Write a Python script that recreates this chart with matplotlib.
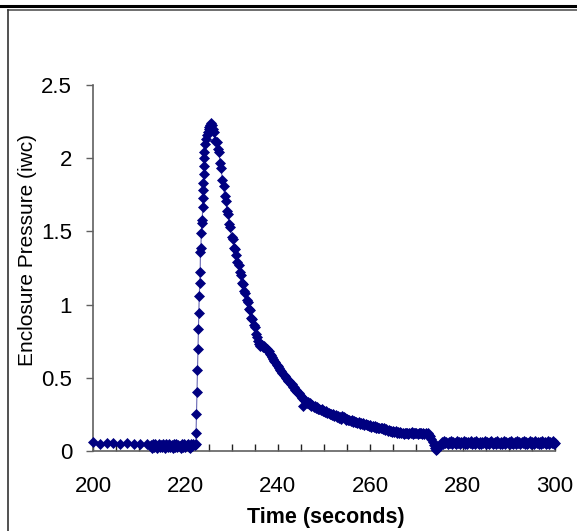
import numpy as np
import matplotlib
matplotlib.use("Agg")
import matplotlib.pyplot as plt
from matplotlib.lines import Line2D

# ---- data ----
head_t = [200.0, 201.5, 203.0, 204.4, 205.8, 207.3, 208.8, 210.2, 211.6]
head_v = [0.06, 0.045, 0.055, 0.055, 0.05, 0.055, 0.045, 0.05, 0.045]

base_t = np.arange(212.5, 222.26, 0.25)
base_v = [0.04, 0.02, 0.05, 0.03, 0.045, 0.02, 0.035, 0.05, 0.025, 0.04,
          0.03, 0.05, 0.02, 0.045, 0.035, 0.025, 0.05, 0.03, 0.04, 0.02,
          0.045, 0.03, 0.05, 0.025, 0.04, 0.035, 0.02, 0.05, 0.03, 0.045,
          0.025, 0.04, 0.05, 0.03, 0.02, 0.045, 0.035, 0.05, 0.04, 0.05]

rise_t = [222.3, 222.4, 222.5, 222.6, 222.7, 222.8, 222.9, 223.0, 223.1, 223.2,
          223.25, 223.35, 223.45, 223.55, 223.65, 223.75, 223.8, 223.85, 223.9, 223.95,
          224.0, 224.05, 224.1, 224.2, 224.4, 224.6, 224.8, 225.0, 225.2, 225.4,
          225.6, 225.8]
rise_v = [0.12, 0.25, 0.40, 0.55, 0.70, 0.83, 0.94, 1.06, 1.15, 1.22,
          1.36, 1.39, 1.49, 1.56, 1.58, 1.67, 1.73, 1.78, 1.83, 1.89,
          1.95, 2.00, 2.04, 2.10, 2.13, 2.16, 2.18, 2.20, 2.21, 2.23,
          2.24, 2.23]

decay_t = np.arange(226.0, 274.76, 0.25)
decay_v = [2.20, 2.18, 2.12, 2.11, 2.06, 2.04, 1.97, 1.93, 1.85, 1.81,
           1.74, 1.71, 1.64, 1.62, 1.55, 1.53, 1.46, 1.45, 1.39, 1.38,
           1.34, 1.29, 1.27, 1.22, 1.20, 1.15, 1.14, 1.09, 1.08, 1.03,
           1.02, 0.97, 0.96, 0.91, 0.90, 0.86, 0.85, 0.80, 0.78, 0.75,
           0.73, 0.72, 0.725, 0.71, 0.72, 0.705, 0.70, 0.695, 0.68, 0.665,
           0.655, 0.64, 0.63, 0.615, 0.605, 0.59, 0.58, 0.565, 0.555, 0.545,
           0.535, 0.52, 0.515, 0.50, 0.495, 0.48, 0.475, 0.46, 0.455, 0.44,
           0.435, 0.42, 0.415, 0.40, 0.395, 0.38, 0.375, 0.36, 0.31, 0.345,
           0.34, 0.33, 0.335, 0.32, 0.325, 0.31, 0.315, 0.30, 0.305, 0.295,
           0.30, 0.285, 0.29, 0.28, 0.285, 0.27, 0.275, 0.265, 0.27, 0.26,
           0.26, 0.25, 0.255, 0.245, 0.25, 0.24, 0.245, 0.23, 0.24, 0.225,
           0.235, 0.22, 0.24, 0.23, 0.225, 0.215, 0.22, 0.21, 0.215, 0.205,
           0.21, 0.20, 0.205, 0.195, 0.20, 0.19, 0.195, 0.185, 0.19, 0.185,
           0.19, 0.18, 0.185, 0.175, 0.18, 0.17, 0.175, 0.165, 0.17, 0.165,
           0.17, 0.16, 0.165, 0.155, 0.16, 0.155, 0.16, 0.15, 0.155, 0.145,
           0.15, 0.14, 0.145, 0.135, 0.14, 0.13, 0.135, 0.13, 0.135, 0.125,
           0.13, 0.12, 0.13, 0.12, 0.125, 0.115, 0.125, 0.12, 0.125, 0.115,
           0.125, 0.12, 0.13, 0.115, 0.125, 0.12, 0.125, 0.115, 0.12, 0.125,
           0.12, 0.115, 0.125, 0.115, 0.12, 0.115, 0.12, 0.11, 0.10, 0.08,
           0.06, 0.04, 0.02, 0.01, 0.015, 0.03]

tail_t = np.arange(275.0, 300.01, 0.25)
tail_v = [0.04, 0.05, 0.06, 0.05, 0.065, 0.055, 0.06, 0.045, 0.06, 0.055,
          0.065, 0.05, 0.06, 0.055, 0.05, 0.065, 0.055, 0.06, 0.05, 0.06,
          0.055, 0.065, 0.05, 0.06, 0.045, 0.06, 0.055, 0.065, 0.05, 0.055,
          0.06, 0.05, 0.065, 0.055, 0.045, 0.06, 0.05, 0.06, 0.055, 0.065,
          0.05, 0.06, 0.055, 0.045, 0.06, 0.065, 0.05, 0.055, 0.06, 0.05,
          0.065, 0.055, 0.05, 0.06, 0.045, 0.055, 0.065, 0.05, 0.06, 0.055,
          0.06, 0.05, 0.065, 0.055, 0.05, 0.06, 0.045, 0.065, 0.055, 0.06,
          0.05, 0.06, 0.055, 0.065, 0.045, 0.06, 0.05, 0.055, 0.065, 0.05,
          0.06, 0.055, 0.05, 0.065, 0.055, 0.06, 0.045, 0.06, 0.05, 0.065,
          0.055, 0.06, 0.05, 0.055, 0.065, 0.05, 0.06, 0.055, 0.065, 0.05,
          0.055]

x_ticks = [200, 220, 240, 260, 280, 300]
y_ticks = [0, 0.5, 1, 1.5, 2, 2.5]
y_tick_labels = ["0", "0.5", "1", "1.5", "2", "2.5"]
x_label = "Time (seconds)"
y_label = "Enclosure Pressure (iwc)"

t = np.concatenate([head_t, base_t, rise_t, decay_t, tail_t])
v = np.concatenate([head_v, base_v, rise_v, decay_v, tail_v])

# ---- figure ----
plt.rcParams['font.family'] = ['Liberation Sans', 'DejaVu Sans']
W, H = 577, 531
fig = plt.figure(figsize=(W / 100, H / 100), dpi=100)
ax = fig.add_axes([93 / W, (H - 451) / H, (555 - 93) / W, (451 - 85) / H])

navy = '#000080'
ax.plot(t, v, color=navy, lw=0.8, alpha=0.6, zorder=2, clip_on=False)
ax.plot(t, v, ls='none', marker='D', ms=5, color=navy, mec=navy, mew=0.5,
        zorder=3, clip_on=False)

ax.set_xlim(200, 300)
ax.set_ylim(0, 2.5)
ax.set_xticks(x_ticks)
ax.set_xticks(np.arange(200, 301, 5), minor=True)
ax.set_yticks(y_ticks)
ax.set_yticklabels(y_tick_labels)

axc = '#606060'
for s in ['top', 'right']:
    ax.spines[s].set_visible(False)
for s in ['left', 'bottom']:
    ax.spines[s].set_color(axc)
    ax.spines[s].set_linewidth(1.2)

ax.tick_params(axis='x', which='both', direction='in', length=5, width=1, color='#222222',
               labelsize=16, pad=18)
ax.tick_params(axis='y', direction='out', length=5, width=1, color=axc,
               labelsize=16, pad=10)

fig.text(326 / W, 1 - 517 / H, x_label, ha='center', va='center',
         fontsize=15.5, fontweight='bold')
fig.text(28 / W, 1 - 250 / H, y_label, ha='center', va='center',
         fontsize=15, rotation=90)

# page frame decorations
fig.add_artist(Line2D([0, 1], [1 - 6 / H, 1 - 6 / H], transform=fig.transFigure,
                      color='black', lw=2.2))
fig.add_artist(Line2D([8 / W, 1], [1 - 10 / H, 1 - 10 / H], transform=fig.transFigure,
                      color='#555555', lw=1.2))
fig.add_artist(Line2D([8 / W, 8 / W], [0, 1 - 10 / H], transform=fig.transFigure,
                      color='#333333', lw=1.2))

fig.savefig('out.png', dpi=100)
